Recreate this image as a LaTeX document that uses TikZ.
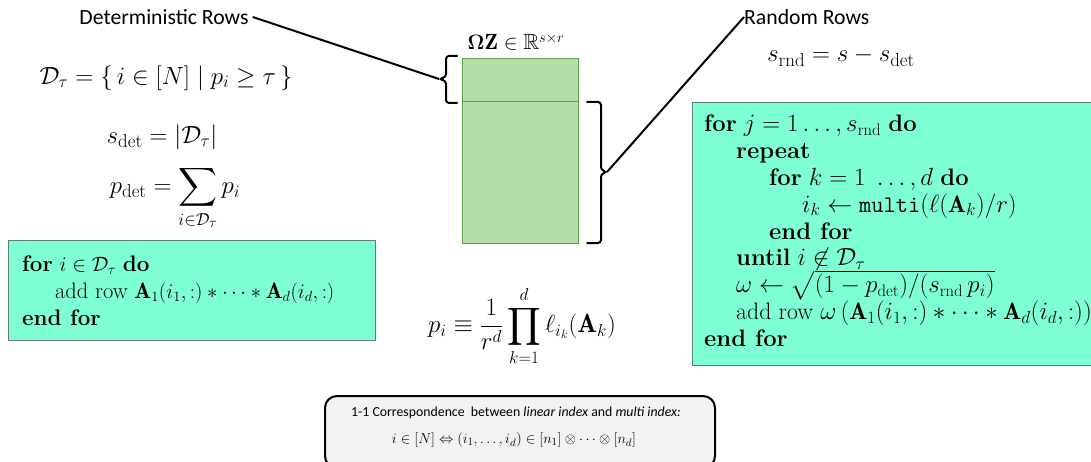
\documentclass[tikz,border=0pt]{standalone}
\usepackage{fontspec}
\usepackage{amsmath,amssymb}
\newfontfamily\carl{Carlito}
\definecolor{matgreen}{HTML}{B3DEA8}
\definecolor{matedge}{HTML}{5A9E4E}
\definecolor{aqua}{HTML}{7FFFD4}
\definecolor{aquaedge}{HTML}{5F7F75}
\definecolor{notegray}{HTML}{F2F2F2}
\tikzset{
  lbl/.style={font=\carl\fontsize{21.7}{24}\selectfont, inner sep=0pt},
  eq/.style={inner sep=0pt},
  algbox/.style={draw=aquaedge, fill=aqua, line width=1.2pt, align=left, anchor=north west, inner sep=0pt},
  brace/.style={line width=2pt, rounded corners=3pt, line cap=round},
  conn/.style={line width=2pt},
}
\begin{document}
\begin{tikzpicture}[x=1pt,y=-1pt]
\useasboundingbox (0,0) rectangle (1091,462);
% labels
\node[lbl] (det) at (164,17) {Deterministic Rows};
\node[lbl, anchor=west] (rnd) at (744,17) {Random Rows};
% matrix
\node[draw=matedge, fill=matgreen, line width=1pt, minimum width=116pt, minimum height=185pt, inner sep=0pt, anchor=north west] (mat) at (462,58) {};
\draw[matedge, line width=1pt] (462,102) -- (578,102);
\node[eq, font=\fontsize{22}{24}\selectfont] (title) at (516,42) {$\boldsymbol{\Omega}\mathbf{Z} \in \mathbb{R}^{s\times r}$};
% braces
\coordinate (ltip) at (439,79);
\coordinate (rtip) at (607,172);
\draw[brace] (457,56) -- (446,56) -- (446,77) -- (ltip) -- (446,81) -- (446,103) -- (457,103);
\draw[brace] (587,102) -- (601,102) -- (601,170) -- (rtip) -- (601,174) -- (601,243) -- (587,243);
\draw[conn] (det.east) ++(4pt,0) -- (ltip);
\draw[conn] (rtip) -- (rnd.west);
% left formulas
\node[eq, font=\fontsize{23.2}{27}\selectfont] (dtau) at (166,78) {$\mathcal{D}_\tau = \{\, i \in [N] \mid p_i \geq \tau \,\}$};
\node[eq, font=\fontsize{27}{30}\selectfont] (sdet) at (162,137) {$s_{\mathrm{det}} = |\mathcal{D}_\tau|$};
\node[eq, font=\fontsize{27}{30}\selectfont] (pdet) at (175,198) {$\displaystyle p_{\mathrm{det}} = \sum_{i\in\mathcal{D}_\tau} p_i$};
% right formula
\node[eq, font=\fontsize{27}{29}\selectfont] (srnd) at (841,57) {$s_{\mathrm{rnd}} = s - s_{\mathrm{det}}$};
% left algorithm
\node[algbox, minimum width=367pt, minimum height=100pt] (lbox) at (8,240) {};
\node[eq, anchor=north west, align=left, font=\fontsize{22.4}{27}\selectfont] (lalg) at (22,256) {%
\textbf{for} $i \in \mathcal{D}_\tau$ \textbf{do}\\
\hspace*{33pt}add row $\mathbf{A}_1(i_1,:) * \cdots * \mathbf{A}_d(i_d,:)$\\
\textbf{end for}};
% right algorithm
\node[algbox, minimum width=405pt, minimum height=263pt] (rbox) at (692,102) {};
\node[eq, anchor=north west, align=left, font=\fontsize{23.8}{26.8}\selectfont\setlength\lineskiplimit{-30pt}] (ralg) at (704,115) {%
\textbf{for} $j = 1\ldots, s_{\mathrm{rnd}}$ \textbf{do}\\
\hspace*{32pt}\textbf{repeat}\\
\hspace*{65pt}\textbf{for} $k=1\ \ldots, d$ \textbf{do}\\
\hspace*{98pt}$i_k \leftarrow \texttt{multi}(\ell(\mathbf{A}_k)/r)$\\
\hspace*{65pt}\textbf{end for}\\
\hspace*{32pt}\textbf{until} $i \not\in \mathcal{D}_\tau$\\
\hspace*{32pt}$\omega \leftarrow \smash{\sqrt{(1-p_{\mathrm{det}})/(s_{\mathrm{rnd}}\,p_i)}}$\\
\hspace*{32pt}add row $\omega\,(\mathbf{A}_1(i_1,:) * \cdots * \mathbf{A}_d(i_d,:))$\\
\textbf{end for}};
% p_i formula
\node[eq, font=\fontsize{26.3}{29}\selectfont] (pi) at (522,326) {$\displaystyle p_i \equiv \frac{1}{r^d}\prod_{k=1}^{d} \ell_{i_k}(\mathbf{A}_k)$};
% note box
\node[draw=black, fill=notegray, line width=2pt, rounded corners=12pt, minimum width=390pt, minimum height=72pt, anchor=north west, inner sep=0pt] (note) at (324,395) {};
\node[eq, font=\carl\fontsize{13.8}{16}\selectfont] (n1) at (516,413) {1-1 Correspondence\ \ between \textit{linear index} and \textit{multi index:}};
\node[eq, font=\fontsize{15}{18}\selectfont] (n2) at (514,440) {$i \in [N] \Leftrightarrow (i_1,\ldots,i_d) \in [n_1]\otimes\cdots\otimes[n_d]$};
\end{tikzpicture}
\end{document}
